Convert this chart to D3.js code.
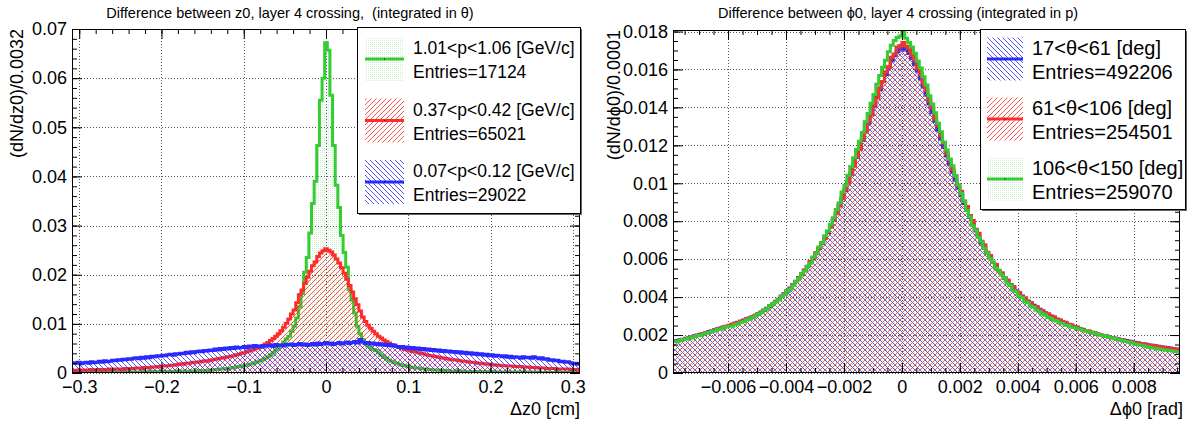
<!DOCTYPE html>
<html><head><meta charset="utf-8">
<script src="https://cdn.jsdelivr.net/npm/d3@7"></script>
<style>
body{margin:0;background:#fff;}
svg{display:block;font-family:"Liberation Sans",Arial,Helvetica,sans-serif;}
</style></head><body>
<svg id="c" width="1195" height="427"></svg>
<script>
// ---------- Δz0 histograms (bin width 0.0032 cm) ----------
const dzBinStart = -0.3088, dzBinWidth = 0.0032;
const dzGreen = [
0.0001,0.0001,0.0002,0.0001,0.0001,0.0001,0.0002,0.0001,0.0001,0.0002,
0.0001,0.0002,0.0001,0.0002,0.0002,0.0001,0.0002,0.0002,0.0001,0.0002,
0.0002,0.0002,0.0001,0.0002,0.0002,0.0002,0.0003,0.0002,0.0002,0.0003,
0.0002,0.0003,0.0002,0.0003,0.0003,0.0002,0.0003,0.0003,0.0003,0.0004,
0.0003,0.0003,0.0004,0.0003,0.0004,0.0004,0.0003,0.0004,0.0005,0.0004,0.0005,
0.0005,0.0006,0.0006,0.0007,0.0007,0.0008,0.0008,0.0009,0.0009,0.0010,
0.0011,0.0012,0.0013,0.0014,0.0015,0.0016,0.0018,0.0019,0.0021,0.0023,
0.0025,0.0027,0.0030,0.0033,0.0037,0.0042,0.0047,0.0052,0.0057,0.0063,
0.0069,0.0075,0.0085,0.0095,0.0112,0.0135,0.0162,0.0205,0.0235,0.0285,
0.0345,0.0390,0.0463,0.0555,0.0600,0.0672,
0.0657,0.0565,0.0463,0.0382,0.0337,0.0280,0.0245,0.0215,0.0170,0.0148,
0.0122,0.0095,0.0080,0.0068,0.0060,0.0055,0.0052,0.0048,0.0046,0.0041,
0.0036,0.0032,0.0030,0.0026,0.0024,0.0021,0.0020,0.0018,0.0016,0.0015,
0.0013,0.0012,0.0011,0.0010,0.0010,0.0009,0.0008,0.0008,0.0007,0.0007,
0.0006,0.0006,0.0006,0.0005,0.0005,0.0005,0.0004,0.0004,0.0004,0.0004,
0.0003,0.0004,0.0003,0.0003,
0.0003,0.0003,0.0002,0.0003,0.0003,0.0002,0.0003,0.0002,0.0002,0.0003,
0.0002,0.0002,0.0002,0.0001,0.0002,0.0002,0.0002,0.0001,0.0002,0.0002,
0.0001,0.0002,0.0001,0.0002,0.0001,0.0001,0.0002,0.0001,0.0001,0.0002,
0.0001,0.0001,0.0001,0.0002,0.0001,0.0001,0.0001,0.0001,0.0002,0.0001,
0.0001,0.0001];
const dzRed = [
0.0005,0.0005,0.0006,0.0005,0.0006,0.0006,0.0006,0.0007,0.0006,0.0006,
0.0007,0.0007,0.0006,0.0007,0.0008,0.0007,0.0008,0.0008,0.0007,0.0008,
0.0009,0.0008,0.0009,0.0009,0.0010,0.0010,0.0009,0.0011,0.0011,0.0010,
0.0012,0.0012,0.0013,0.0012,0.0014,0.0014,0.0015,0.0016,0.0016,0.0017,
0.0018,0.0019,0.0018,0.0020,0.0020,0.0021,0.0022,0.0022,0.0023,0.0024,
0.0025,0.0024,0.0026,0.0027,0.0028,0.0029,0.0030,0.0031,0.0032,0.0033,
0.0034,0.0035,0.0037,0.0038,0.0040,0.0041,0.0043,0.0045,0.0047,0.0049,
0.0051,0.0053,0.0056,0.0059,0.0062,0.0066,0.0070,0.0075,0.0080,0.0086,
0.0093,0.0101,0.0110,0.0120,0.0128,0.0143,0.0159,0.0169,0.0182,0.0195,
0.0207,0.0218,0.0226,0.0237,0.0244,0.0249,0.0253,
0.0250,0.0246,0.0240,0.0232,0.0224,0.0214,0.0203,0.0191,0.0178,0.0165,
0.0151,0.0139,0.0126,0.0114,0.0105,0.0097,0.0091,0.0085,0.0080,0.0075,
0.0071,0.0067,0.0064,0.0061,0.0058,0.0056,0.0054,0.0052,0.0050,0.0048,
0.0047,0.0045,0.0044,0.0043,0.0041,0.0040,0.0039,0.0037,0.0036,0.0035,
0.0034,0.0033,0.0032,0.0031,0.0030,0.0029,0.0028,0.0027,0.0027,0.0026,
0.0025,0.0024,0.0024,0.0023,0.0022,0.0022,0.0021,0.0020,0.0020,0.0019,
0.0019,0.0018,0.0017,0.0017,0.0016,0.0016,0.0015,0.0015,0.0014,0.0014,
0.0014,0.0013,0.0013,0.0013,0.0012,0.0012,0.0012,0.0011,0.0011,0.0011,
0.0010,0.0010,0.0010,0.0009,0.0009,0.0009,0.0009,0.0008,0.0008,0.0008,
0.0008,0.0008,0.0007,0.0007,0.0007,0.0007];
const dzBlue = [
0.0021,0.0020,0.0022,0.0019,0.0021,0.0022,0.0020,0.0023,0.0021,0.0022,
0.0024,0.0022,0.0025,0.0023,0.0024,0.0026,0.0025,0.0027,0.0026,0.0028,
0.0027,0.0029,0.0028,0.0030,0.0031,0.0029,0.0032,0.0030,0.0033,0.0031,
0.0034,0.0033,0.0035,0.0034,0.0036,0.0035,0.0037,0.0038,0.0036,0.0039,
0.0038,0.0040,0.0039,0.0042,0.0040,0.0043,0.0041,0.0044,0.0045,0.0043,
0.0046,0.0045,0.0047,0.0046,0.0049,0.0047,0.0050,0.0048,0.0051,0.0049,
0.0052,0.0050,0.0053,0.0051,0.0052,0.0054,0.0051,0.0055,0.0053,0.0056,
0.0054,0.0055,0.0053,0.0056,0.0055,0.0057,0.0054,0.0058,0.0056,0.0057,
0.0055,0.0058,0.0057,0.0059,0.0056,0.0058,0.0060,0.0057,0.0059,0.0056,
0.0058,0.0060,0.0057,0.0061,0.0058,0.0060,0.0062,0.0059,0.0061,0.0058,
0.0060,0.0062,0.0059,0.0061,0.0063,0.0060,0.0062,0.0064,0.0061,0.0068,
0.0063,0.0060,0.0062,0.0059,0.0061,0.0058,0.0060,0.0057,0.0059,0.0056,
0.0058,0.0055,0.0057,0.0054,0.0052,0.0054,0.0051,0.0053,0.0050,0.0052,
0.0049,0.0051,0.0048,0.0050,0.0047,0.0049,0.0046,0.0048,0.0045,0.0047,
0.0044,0.0046,0.0043,0.0045,0.0042,0.0044,0.0041,0.0043,0.0040,0.0042,
0.0039,0.0041,0.0038,0.0040,0.0037,0.0039,0.0036,0.0038,0.0035,0.0037,
0.0034,0.0036,0.0035,0.0033,0.0035,0.0032,0.0034,0.0031,0.0033,0.0032,
0.0030,0.0033,0.0031,0.0032,0.0030,0.0033,0.0031,0.0029,0.0031,0.0028,
0.0029,0.0026,0.0027,0.0025,0.0026,0.0023,0.0024,0.0022,0.0023,0.0021,
0.0019,0.0020,0.0018];

// ---------- Δϕ0 histograms (bin width 0.0001 rad) ----------
const dphiBinStart = -0.0079, dphiBinWidth = 0.0001;
const dphiBlue = [
0.00168,0.00171,0.00175,0.00178,0.00183,0.00187,0.00190,0.00196,0.00199,
0.00204,0.00208,0.00213,0.00219,0.00222,0.00228,0.00233,0.00237,0.00242,0.00247,
0.00251,0.00257,0.00262,0.00268,0.00272,0.00279,0.00285,0.00290,0.00297,0.00304,
0.00312,0.00321,0.00330,0.00341,0.00352,0.00364,0.00377,0.00389,0.00404,0.00418,
0.00432,0.00448,0.00466,0.00483,0.00502,0.00522,0.00541,0.00563,0.00586,0.00608,
0.00632,0.00658,0.00684,0.00712,0.00741,0.00772,0.00806,0.00842,0.00880,0.00921,
0.00962,0.01006,0.01048,0.01093,0.01136,0.01181,0.01226,0.01272,0.01318,0.01362,
0.01406,0.01452,0.01494,0.01536,0.01574,0.01612,0.01646,0.01672,0.01694,0.01706,
0.01712,0.01702,0.01684,0.01658,0.01626,0.01590,0.01550,0.01508,0.01464,0.01418,
0.01372,0.01326,0.01280,0.01234,0.01188,0.01144,0.01100,0.01058,0.01016,0.00974,
0.00934,0.00894,0.00856,0.00820,0.00784,0.00750,0.00718,0.00688,0.00660,0.00632,
0.00606,0.00582,0.00560,0.00540,0.00520,0.00502,0.00484,0.00466,0.00450,0.00434,
0.00420,0.00406,0.00392,0.00380,0.00368,0.00357,0.00346,0.00336,0.00326,0.00317,
0.00308,0.00300,0.00292,0.00284,0.00277,0.00270,0.00263,0.00257,0.00251,0.00245,
0.00240,0.00234,0.00229,0.00224,0.00220,0.00215,0.00211,0.00206,0.00202,0.00198,
0.00195,0.00191,0.00187,0.00184,0.00181,0.00177,0.00174,0.00171,0.00168,0.00165,
0.00162,0.00159,0.00156,0.00154,0.00151,0.00148,0.00146,0.00143,0.00141,0.00138,
0.00136,0.00134,0.00132,0.00129,0.00127,0.00125];
const dphiRed = [
0.00167,0.00168,0.00174,0.00175,0.00182,0.00185,0.00189,0.00193,0.00200,
0.00201,0.00207,0.00214,0.00215,0.00223,0.00226,0.00232,0.00235,0.00243,0.00245,
0.00252,0.00255,0.00262,0.00266,0.00274,0.00277,0.00286,0.00289,0.00298,0.00303,
0.00313,0.00319,0.00332,0.00339,0.00354,0.00362,0.00378,0.00387,0.00405,0.00415,
0.00434,0.00446,0.00467,0.00481,0.00503,0.00520,0.00543,0.00561,0.00588,0.00606,
0.00634,0.00656,0.00687,0.00710,0.00745,0.00770,0.00810,0.00840,0.00884,0.00918,
0.00966,0.01002,0.01052,0.01090,0.01140,0.01178,0.01232,0.01270,0.01324,0.01360,
0.01414,0.01450,0.01504,0.01536,0.01588,0.01614,0.01664,0.01682,0.01718,0.01726,
0.01742,0.01722,0.01710,0.01674,0.01652,0.01606,0.01576,0.01524,0.01490,0.01434,
0.01398,0.01342,0.01304,0.01250,0.01212,0.01158,0.01124,0.01072,0.01040,0.00988,
0.00958,0.00906,0.00878,0.00830,0.00804,0.00758,0.00736,0.00694,0.00676,0.00636,
0.00620,0.00584,0.00572,0.00538,0.00528,0.00498,0.00490,0.00462,0.00456,0.00430,
0.00424,0.00402,0.00396,0.00376,0.00372,0.00352,0.00350,0.00332,0.00330,0.00314,
0.00312,0.00297,0.00296,0.00282,0.00281,0.00268,0.00267,0.00255,0.00254,0.00243,
0.00242,0.00232,0.00231,0.00222,0.00221,0.00213,0.00212,0.00204,0.00203,0.00196,
0.00195,0.00188,0.00187,0.00181,0.00180,0.00174,0.00173,0.00168,0.00167,0.00162,
0.00161,0.00156,0.00155,0.00151,0.00150,0.00146,0.00145,0.00141,0.00140,0.00137,
0.00136,0.00132,0.00131,0.00128,0.00127,0.00124];
const dphiGreen = [
0.00166,0.00165,0.00172,0.00176,0.00179,0.00186,0.00185,0.00193,0.00198,
0.00197,0.00206,0.00210,0.00213,0.00221,0.00222,0.00230,0.00231,0.00238,0.00242,
0.00246,0.00247,0.00256,0.00258,0.00268,0.00270,0.00281,0.00283,0.00294,0.00300,
0.00311,0.00318,0.00332,0.00338,0.00356,0.00362,0.00374,0.00385,0.00402,0.00412,
0.00433,0.00442,0.00463,0.00482,0.00498,0.00524,0.00537,0.00562,0.00578,0.00612,
0.00628,0.00664,0.00688,0.00724,0.00748,0.00784,0.00818,0.00862,0.00898,0.00954,
0.00988,0.01042,0.01088,0.01134,0.01178,0.01222,0.01268,0.01324,0.01368,0.01422,
0.01468,0.01522,0.01568,0.01612,0.01648,0.01694,0.01728,0.01752,0.01768,0.01776,
0.01802,0.01764,0.01742,0.01718,0.01686,0.01644,0.01608,0.01562,0.01518,0.01462,
0.01418,0.01372,0.01316,0.01272,0.01218,0.01176,0.01128,0.01092,0.01038,0.00992,
0.00946,0.00904,0.00856,0.00822,0.00776,0.00752,0.00716,0.00692,0.00656,0.00632,
0.00604,0.00584,0.00554,0.00542,0.00516,0.00502,0.00474,0.00462,0.00434,0.00428,
0.00404,0.00398,0.00376,0.00372,0.00352,0.00348,0.00332,0.00326,0.00312,0.00306,
0.00292,0.00288,0.00278,0.00274,0.00264,0.00262,0.00252,0.00250,0.00242,0.00240,
0.00233,0.00232,0.00224,0.00224,0.00216,0.00215,0.00208,0.00206,0.00200,0.00198,
0.00192,0.00190,0.00184,0.00182,0.00176,0.00174,0.00168,0.00166,0.00162,0.00158,
0.00152,0.00150,0.00146,0.00143,0.00138,0.00136,0.00132,0.00130,0.00126,0.00125,
0.00122,0.00120,0.00118,0.00116,0.00113,0.00110];

// ---------- axis ticks and labels ----------
const dzTicks = [-0.3,-0.2,-0.1,0,0.1,0.2,0.3];
const dzTickLabels = ["\u22120.3","\u22120.2","\u22120.1","0","0.1","0.2","0.3"];
const dzYTicks = [0,0.01,0.02,0.03,0.04,0.05,0.06,0.07];
const dzYTickLabels = ["0","0.01","0.02","0.03","0.04","0.05","0.06","0.07"];
const dphiTicks = [-0.006,-0.004,-0.002,0,0.002,0.004,0.006,0.008];
const dphiTickLabels = ["\u22120.006","\u22120.004","\u22120.002","0","0.002","0.004","0.006","0.008"];
const dphiYTicks = [0,0.002,0.004,0.006,0.008,0.01,0.012,0.014,0.016,0.018];
const dphiYTickLabels = ["0","0.002","0.004","0.006","0.008","0.01","0.012","0.014","0.016","0.018"];

const dzLegend = [
  {l1:"1.01<p<1.06 [GeV/c]", l2:"Entries=17124", color:"#33cc33", fill:"dots"},
  {l1:"0.37<p<0.42 [GeV/c]", l2:"Entries=65021", color:"#ff2a2a", fill:"fwd"},
  {l1:"0.07<p<0.12 [GeV/c]", l2:"Entries=29022", color:"#2a2aff", fill:"back"}];
const dphiLegend = [
  {l1:"17<\u03b8<61 [deg]", l2:"Entries=492206", color:"#2a2aff", fill:"back"},
  {l1:"61<\u03b8<106 [deg]", l2:"Entries=254501", color:"#ff2a2a", fill:"fwd"},
  {l1:"106<\u03b8<150 [deg]", l2:"Entries=259070", color:"#33cc33", fill:"dots"}];

const svg = d3.select("#c");
svg.append("rect").attr("width",1195).attr("height",427).attr("fill","#fff");
const defs = svg.append("defs");

// fill styles: forward hatch (red), back hatch (blue), stipple (green)
const pf = defs.append("pattern").attr("id","fwd").attr("width",5).attr("height",5)
  .attr("patternUnits","userSpaceOnUse");
pf.append("path").attr("d","M0,5L5,0M-1,1L1,-1M4,6L6,4")
  .attr("stroke","#ff2a2a").attr("stroke-width",1).attr("stroke-opacity",0.8);
const pb = defs.append("pattern").attr("id","back").attr("width",5).attr("height",5)
  .attr("patternUnits","userSpaceOnUse");
pb.append("path").attr("d","M0,0L5,5M-1,4L1,6M4,-1L6,1")
  .attr("stroke","#2a2aff").attr("stroke-width",1).attr("stroke-opacity",0.8);
const pd = defs.append("pattern").attr("id","dots").attr("width",2).attr("height",2)
  .attr("patternUnits","userSpaceOnUse");
pd.append("rect").attr("width",1).attr("height",1).attr("fill","#33cc33").attr("fill-opacity",0.25);

function panel(cfg){
  const g = svg.append("g");
  const x = d3.scaleLinear().domain(cfg.xDomain).range([cfg.left, cfg.right]);
  const y = d3.scaleLinear().domain(cfg.yDomain).range([cfg.bottom, cfg.top]);
  const clipId = cfg.id + "clip";
  defs.append("clipPath").attr("id",clipId).append("rect")
    .attr("x",cfg.left).attr("y",cfg.top).attr("width",cfg.right-cfg.left).attr("height",cfg.bottom-cfg.top);

  // dotted grid
  const grid = g.append("g").attr("stroke","#555").attr("stroke-width",1).attr("stroke-dasharray","1,2");
  cfg.xTicks.forEach(t=>grid.append("line").attr("x1",Math.round(x(t))+0.5).attr("x2",Math.round(x(t))+0.5)
    .attr("y1",cfg.top).attr("y2",cfg.bottom));
  cfg.yTicks.forEach(t=>grid.append("line").attr("y1",Math.round(y(t))+0.5).attr("y2",Math.round(y(t))+0.5)
    .attr("x1",cfg.left).attr("x2",cfg.right));

  // histograms
  const hg = g.append("g").attr("clip-path",`url(#${clipId})`);
  cfg.series.forEach(s=>{
    const pts = s.values.map((v,i)=>[cfg.binStart + i*cfg.binWidth, v]);
    pts.push([cfg.binStart + s.values.length*cfg.binWidth, s.values[s.values.length-1]]);
    const area = d3.area().curve(d3.curveStepAfter).x(d=>x(d[0])).y0(y(0)).y1(d=>y(d[1]));
    const line = d3.line().curve(d3.curveStepAfter).x(d=>x(d[0])).y(d=>y(d[1]));
    hg.append("path").attr("d",area(pts)).attr("fill",`url(#${s.fill})`);
    hg.append("path").attr("d",line(pts)).attr("fill","none").attr("stroke",s.color)
      .attr("stroke-width",3).attr("stroke-linejoin","miter");
  });

  // axes with inward ticks on all four sides
  const font = 18;
  const ax = (gen, scale, vals, size, labels, pad) => {
    const a = gen(scale).tickValues(vals).tickSize(size).tickPadding(pad||0);
    a.tickFormat(labels ? (d,i)=>labels[i] : ()=>"");
    return a;
  };
  const addAxis = (a, tr) => {
    const sel = g.append("g").attr("transform",tr).call(a);
    sel.select(".domain").remove();
    sel.selectAll("line").attr("stroke","#000").attr("stroke-width",1);
    sel.selectAll("text").attr("font-size",font).attr("fill","#000")
      .attr("font-family","'Liberation Sans',Arial,sans-serif");
    return sel;
  };
  addAxis(ax(d3.axisBottom,x,cfg.xTicks,-10,cfg.xTickLabels,7),`translate(0,${cfg.bottom})`);
  addAxis(ax(d3.axisBottom,x,cfg.xMinor,-5),`translate(0,${cfg.bottom})`);
  addAxis(ax(d3.axisTop,x,cfg.xTicks,-10),`translate(0,${cfg.top})`);
  addAxis(ax(d3.axisTop,x,cfg.xMinor,-5),`translate(0,${cfg.top})`);
  addAxis(ax(d3.axisLeft,y,cfg.yTicks,-10,cfg.yTickLabels,5),`translate(${cfg.left},0)`);
  addAxis(ax(d3.axisLeft,y,cfg.yMinor,-5),`translate(${cfg.left},0)`);
  addAxis(ax(d3.axisRight,y,cfg.yTicks,-10),`translate(${cfg.right},0)`);
  addAxis(ax(d3.axisRight,y,cfg.yMinor,-5),`translate(${cfg.right},0)`);

  g.append("rect").attr("x",cfg.left+0.5).attr("y",cfg.top+0.5)
    .attr("width",cfg.right-cfg.left-1).attr("height",cfg.bottom-cfg.top-1)
    .attr("fill","none").attr("stroke","#000").attr("stroke-width",1);

  // titles
  g.append("text").attr("x",cfg.titleX).attr("y",18).attr("text-anchor","middle")
    .attr("font-size",14.5).style("white-space","pre").text(cfg.title);
  g.append("text").attr("x",cfg.right+cfg.xTitleShift).attr("y",415).attr("text-anchor","end")
    .attr("font-size",18).text(cfg.xTitle);
  g.append("text").attr("transform",`translate(${cfg.yTitleX},${cfg.top}) rotate(-90)`)
    .attr("text-anchor","end").attr("font-size",18).text(cfg.yTitle);

  // legend
  const L = cfg.legend;
  g.append("rect").attr("x",L.x+2).attr("y",L.y+2).attr("width",L.w).attr("height",L.h).attr("fill","#666");
  g.append("rect").attr("x",L.x+0.5).attr("y",L.y+0.5).attr("width",L.w).attr("height",L.h)
    .attr("fill","#fff").attr("stroke","#000").attr("stroke-width",1);
  L.entries.forEach((e,i)=>{
    const cy = L.row0 + i*L.rowStep;
    g.append("rect").attr("x",L.sx).attr("y",cy-L.sh/2).attr("width",L.sw).attr("height",L.sh)
      .attr("fill",`url(#${e.fill})`);
    g.append("line").attr("x1",L.sx).attr("x2",L.sx+L.sw).attr("y1",cy).attr("y2",cy)
      .attr("stroke",e.color).attr("stroke-width",3);
    g.append("rect").attr("x",L.sx+L.sw/2-0.5).attr("y",cy-0.5).attr("width",1).attr("height",1).attr("fill","#000");
    g.append("text").attr("x",L.tx).attr("y",cy-11+L.fs*0.36).attr("font-size",L.fs).text(e.l1);
    g.append("text").attr("x",L.tx).attr("y",cy+13+L.fs*0.36).attr("font-size",L.fs).text(e.l2);
  });
}

const step = (a,b,s)=>d3.range(Math.round((b-a)/s)+1).map(k=>+(a+k*s).toFixed(6));

panel({
  id:"dz", left:72, right:580, top:29, bottom:373,
  xDomain:[-0.3088,0.3088], yDomain:[0,0.07],
  xTicks:dzTicks, xTickLabels:dzTickLabels, xMinor:step(-0.3,0.3,0.02),
  yTicks:dzYTicks, yTickLabels:dzYTickLabels, yMinor:step(0,0.07,0.002),
  binStart:dzBinStart, binWidth:dzBinWidth,
  series:[
    {values:dzGreen, color:"#33cc33", fill:"dots"},
    {values:dzRed, color:"#ff2a2a", fill:"fwd"},
    {values:dzBlue, color:"#2a2aff", fill:"back"}],
  title:"Difference between z0, layer 4 crossing,  (integrated in \u03b8)", titleX:290,
  xTitle:"\u0394z0 [cm]", xTitleShift:0,
  yTitle:"(dN/dz0)/0.0032", yTitleX:23,
  legend:{x:357,y:27,w:223,h:186,sx:365,sw:39,sh:44,tx:413,row0:59,rowStep:61.5,fs:17.5,entries:dzLegend}
});

panel({
  id:"dphi", left:673, right:1180, top:30, bottom:373,
  xDomain:[-0.0079,0.0096], yDomain:[0,0.01808],
  xTicks:dphiTicks, xTickLabels:dphiTickLabels, xMinor:step(-0.0075,0.0095,0.0005),
  yTicks:dphiYTicks, yTickLabels:dphiYTickLabels, yMinor:step(0,0.018,0.0005),
  binStart:dphiBinStart, binWidth:dphiBinWidth,
  series:[
    {values:dphiBlue, color:"#2a2aff", fill:"back"},
    {values:dphiRed, color:"#ff2a2a", fill:"fwd"},
    {values:dphiGreen, color:"#33cc33", fill:"dots"}],
  title:"Difference between \u03d50, layer 4 crossing (integrated in p)", titleX:898,
  xTitle:"\u0394\u03d50 [rad]", xTitleShift:3,
  yTitle:"(dN/d\u03d50)/0.0001", yTitleX:620,
  legend:{x:980,y:29,w:205,h:180,sx:987,sw:36,sh:43,tx:1032,row0:59,rowStep:60,fs:20,entries:dphiLegend}
});
</script>
</body></html>
